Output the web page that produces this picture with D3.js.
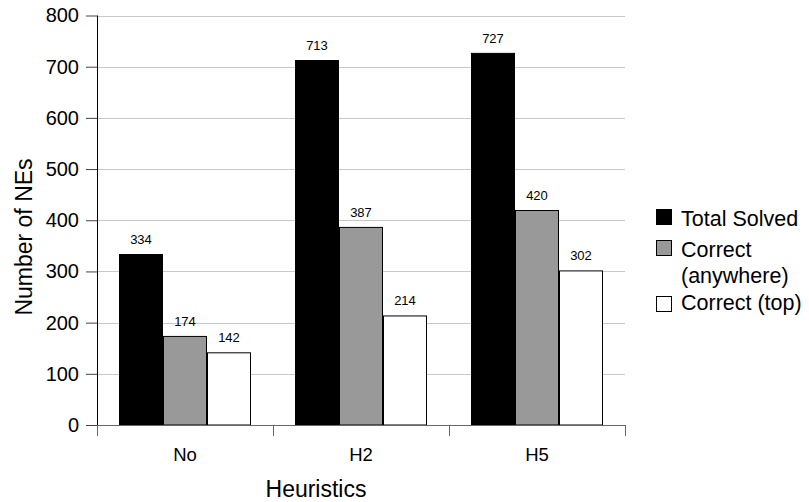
<!DOCTYPE html>
<html><head><meta charset="utf-8">
<script src="https://cdn.jsdelivr.net/npm/d3@7"></script>
<style>body{margin:0;background:#fff;} svg{display:block;font-family:"Liberation Sans",Arial,sans-serif;}</style>
</head><body>
<svg id="c" width="809" height="502"></svg>
<script>
const categories = ["No", "H2", "H5"];
const seriesNames = ["Total Solved", "Correct (anywhere)", "Correct (top)"];
const totalSolved = [334, 713, 727];
const correctAnywhere = [174, 387, 420];
const correctTop = [142, 214, 302];
const yTicks = [0, 100, 200, 300, 400, 500, 600, 700, 800];
const colors = ["#000000", "#999999", "#ffffff"];
const series = [totalSolved, correctAnywhere, correctTop];

const svg = d3.select("#c");
const L = 97, R = 625, T = 15.5, B = 425;
const x = d3.scaleBand().domain(categories).range([L, R]).paddingInner(0).paddingOuter(0);
const xs = d3.scaleBand().domain(d3.range(series.length)).range([22, 176 - 22]);
const y = d3.scaleLinear().domain([0, 800]).range([B, T]);

// gridlines
svg.append("g").selectAll("line").data(yTicks.slice(1)).join("line")
  .attr("x1", L).attr("x2", R).attr("y1", d => Math.round(y(d)) + 0.5).attr("y2", d => Math.round(y(d)) + 0.5)
  .attr("stroke", "#c8c8c8").attr("stroke-width", 1);

// bars
series.forEach((vals, si) => {
  svg.append("g").selectAll("rect").data(vals).join("rect")
    .attr("x", (d, i) => x(categories[i]) + xs(si) + 0.5)
    .attr("y", d => y(d) + 0.5)
    .attr("width", xs.bandwidth() - 1)
    .attr("height", d => B - y(d) - 0.5)
    .attr("fill", colors[si]).attr("stroke", "#000").attr("stroke-width", 1);
  svg.append("g").selectAll("text").data(vals).join("text")
    .attr("x", (d, i) => x(categories[i]) + xs(si) + xs.bandwidth() / 2)
    .attr("y", d => y(d) - 10)
    .attr("text-anchor", "middle").attr("font-size", 13).attr("fill", "#000")
    .text(d => d);
});

// y axis
const yAxis = d3.axisLeft(y).tickValues(yTicks).tickSize(11).tickPadding(7);
const gy = svg.append("g").attr("transform", `translate(${L},0)`).call(yAxis);
gy.selectAll("text").attr("font-size", 20).attr("font-family", "Liberation Sans, Arial, sans-serif").attr("fill", "#000");
gy.selectAll("line").attr("stroke", "#444");
gy.select(".domain").attr("stroke", "#000").attr("d", `M0.5,${T}V${B}`);

// x axis
svg.append("line").attr("x1", L).attr("x2", R).attr("y1", B + 0.5).attr("y2", B + 0.5).attr("stroke", "#666");
const bounds = categories.map(c => x(c)).concat([R]);
svg.append("g").selectAll("line").data(bounds).join("line")
  .attr("x1", d => Math.round(d) + 0.5).attr("x2", d => Math.round(d) + 0.5)
  .attr("y1", B).attr("y2", B + 11).attr("stroke", "#666");
svg.append("g").selectAll("text").data(categories).join("text")
  .attr("x", d => x(d) + x.bandwidth() / 2).attr("y", 461)
  .attr("text-anchor", "middle").attr("font-size", 18.5).text(d => d);

// axis titles
svg.append("text").attr("x", 316).attr("y", 497).attr("text-anchor", "middle")
  .attr("font-size", 23).text("Heuristics");
svg.append("text").attr("transform", `translate(32,237) rotate(-90)`)
  .attr("text-anchor", "middle").attr("font-size", 23).text("Number of NEs");

// legend
const legendLines = [["Total Solved"], ["Correct", "(anywhere)"], ["Correct (top)"]];
const legendBoxY = [209, 240, 296];
const legendBase = [[226], [257, 283], [310]];
legendLines.forEach((lines, i) => {
  svg.append("rect").attr("x", 656.5).attr("y", legendBoxY[i] + 0.5).attr("width", 15).attr("height", 15)
    .attr("fill", colors[i]).attr("stroke", "#000");
  lines.forEach((t, j) => {
    svg.append("text").attr("x", 681).attr("y", legendBase[i][j])
      .attr("font-size", 21.5).text(t);
  });
});
</script>
</body></html>
